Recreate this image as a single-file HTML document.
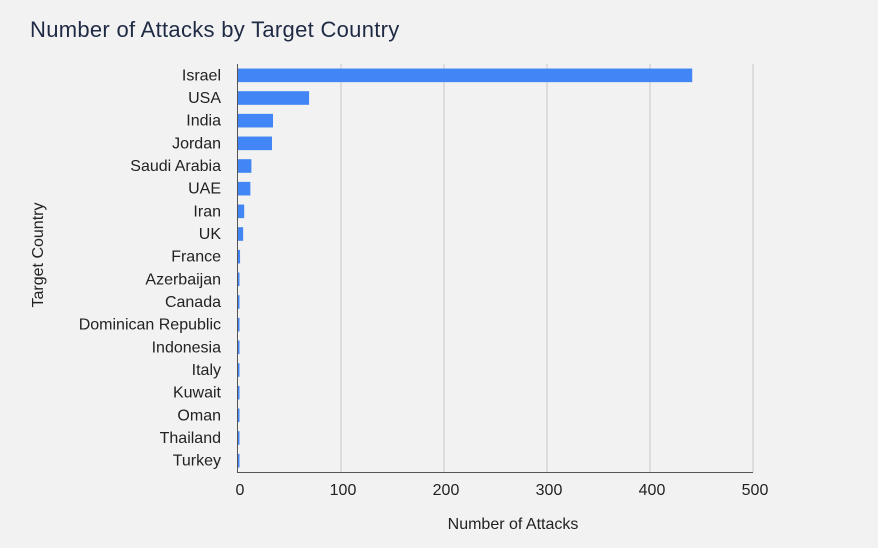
<!DOCTYPE html>
<html><head><meta charset="utf-8"><style>
html,body{margin:0;padding:0;overflow:hidden;background:#f2f2f2;font-family:"Liberation Sans",sans-serif;}
svg{display:block;}
</style></head><body>
<svg width="878" height="548">
<rect width="878" height="548" fill="#f2f2f2"/>
<text x="30" y="37" font-size="22" letter-spacing="0.3" fill="#1f2a44">Number of Attacks by Target Country</text>
<g id="grid"></g><g id="bars"></g><g id="ylab"></g><g id="xlab"></g>
<line x1="237.5" y1="64" x2="237.5" y2="472" stroke="#555" stroke-width="1"/>
<line x1="237" y1="472.5" x2="753" y2="472.5" stroke="#555" stroke-width="1"/>
<text x="513" y="529" font-size="16" text-anchor="middle" fill="#222">Number of Attacks</text>
<text transform="translate(43,255) rotate(-90)" font-size="16" text-anchor="middle" fill="#222">Target Country</text>
</svg>
<script>
const categories=["Israel","USA","India","Jordan","Saudi Arabia","UAE","Iran","UK","France","Azerbaijan","Canada","Dominican Republic","Indonesia","Italy","Kuwait","Oman","Thailand","Turkey"];
const values=[441,69,34,33,13,12,6,5,2,1,1,1,1,1,1,1,1,1];
const xTicks=[0,100,200,300,400,500];
const NS="http://www.w3.org/2000/svg";
const X0=238,X1=753,yTop=64,yBot=472,xMax=500;
const bw=(yBot-yTop)/categories.length;
function xs(v){return X0+v/xMax*(X1-X0);}
function ys(i){return yTop+i*bw;}
function mk(t,a,p){const e=document.createElementNS(NS,t);for(const k in a)e.setAttribute(k,a[k]);p.appendChild(e);return e;}
const gG=document.getElementById('grid'),gB=document.getElementById('bars'),gY=document.getElementById('ylab'),gX=document.getElementById('xlab');
xTicks.forEach(t=>{
 if(t>0){const l=mk('line',{x1:xs(t),x2:xs(t),y1:yTop,y2:yBot,stroke:'#c8c8c8','stroke-width':1},gG);
 
 }
 const tx=mk('text',{x:xs(t)+2,y:495,'font-size':16,'text-anchor':'middle',fill:'#222'},gX);tx.textContent=t;
 
 
});
categories.forEach((c,i)=>{
 const h=bw*0.6;
 const r=mk('rect',{x:X0,y:ys(i)+(bw-h)/2,width:Math.max(1.5,xs(values[i])-X0),height:h,fill:'#4285f4'},gB);
 
 
 const t=mk('text',{x:221,y:ys(i)+bw/2+5,'font-size':16,'text-anchor':'end',fill:'#222'},gY);t.textContent=c;
 
 
});
</script>
</body></html>
